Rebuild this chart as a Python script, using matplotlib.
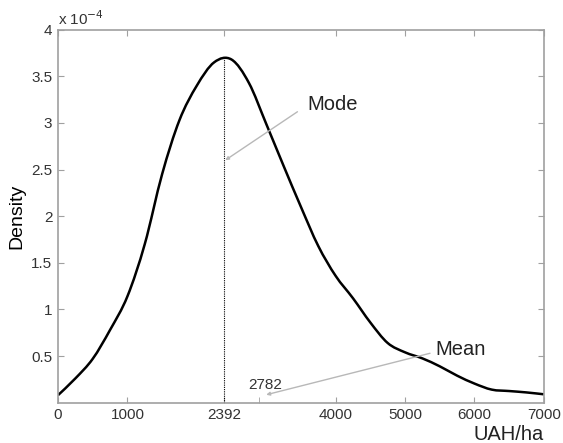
import matplotlib
matplotlib.use('Agg')
from matplotlib import pyplot as plt
from matplotlib.path import Path
from matplotlib.patches import PathPatch
import numpy as np

# density curve (x in UAH/ha, y in 1e-4)
x = [0, 250, 500, 750, 1000, 1250, 1500, 1750, 2000, 2250, 2500, 2750,
     3000, 3250, 3500, 3750, 4000, 4250, 4500, 4750, 5000, 5250, 5500, 5750,
     6000, 6250, 6500, 6750, 7000]
y = [0.08, 0.26, 0.47, 0.78, 1.14, 1.70, 2.45, 3.03, 3.40, 3.65, 3.68, 3.43,
     2.99, 2.54, 2.10, 1.68, 1.36, 1.12, 0.86, 0.64, 0.54, 0.475, 0.39, 0.29,
     0.205, 0.14, 0.125, 0.11, 0.09]

mode_x = 2392
mode_y = 3.70
mean_x = 2782
xticks = [0, 1000, 2392, 4000, 5000, 6000, 7000]
xticklabels = ['0', '1000', '2392', '4000', '5000', '6000', '7000']
yticks = [0.5, 1, 1.5, 2, 2.5, 3, 3.5, 4]
yticklabels = ['0.5', '1', '1.5', '2', '2.5', '3', '3.5', '4']

plt.rcParams['font.family'] = ['Liberation Sans', 'DejaVu Sans']
grey = '#a0a0a0'
txt = '#333333'

fig = plt.figure(figsize=(5.63, 4.43), dpi=100)
ax = fig.add_axes([0.103, 0.091, 0.863, 0.842])

# smooth curve: Catmull-Rom segments drawn as cubic Bezier path
P = np.column_stack([x, y])
verts = [P[0]]
codes = [Path.MOVETO]
for i in range(len(P) - 1):
    p0 = P[i - 1] if i > 0 else P[i]
    p3 = P[i + 2] if i + 2 < len(P) else P[i + 1]
    c1 = P[i] + (P[i + 1] - p0) / 6
    c2 = P[i + 1] - (p3 - P[i]) / 6
    verts += [c1, c2, P[i + 1]]
    codes += [Path.CURVE4] * 3
ax.add_patch(PathPatch(Path(verts, codes), fill=False, edgecolor='black', lw=1.8))

ax.plot([mode_x, mode_x], [0, mode_y], color='black', lw=0.8, ls=(0, (1, 1)))

ax.set_xlim(0, 7000)
ax.set_ylim(0, 4)
ax.set_xticks(xticks)
ax.set_xticklabels(xticklabels)
ax.set_xticks([2900], minor=True)
ax.set_yticks(yticks)
ax.set_yticklabels(yticklabels)
ax.tick_params(which='both', direction='in', length=4, color=grey, labelcolor=txt,
               labelsize=11, top=True, right=True, pad=4)
ax.tick_params(which='minor', top=False)
for s in ax.spines.values():
    s.set_color(grey)
    s.set_linewidth(1.2)

ax.text(0.0, 1.005, r'x 10$^{-4}$', transform=ax.transAxes, fontsize=11,
        color=txt, ha='left', va='bottom')
ax.set_ylabel('Density', fontsize=14, color='black', labelpad=4)
ax.text(1.0, -0.06, 'UAH/ha', transform=ax.transAxes, fontsize=14.5,
        ha='right', va='top', color='#222222')

arr = dict(arrowstyle='-|>', color='#b8b8b8', lw=1, mutation_scale=5,
           shrinkA=0, shrinkB=0)
ax.annotate('', xy=(2410, 2.6), xytext=(3450, 3.12), arrowprops=arr)
ax.text(3600, 3.2, 'Mode', fontsize=14.5, va='center', ha='left', color='#222222')
ax.annotate('', xy=(3000, 0.085), xytext=(5360, 0.53), arrowprops=arr)
ax.text(5440, 0.565, 'Mean', fontsize=14.5, va='center', ha='left', color='#222222')
ax.text(2740, 0.19, str(mean_x), fontsize=11, va='center', ha='left', color=txt)

fig.savefig('out.png', dpi=100)
